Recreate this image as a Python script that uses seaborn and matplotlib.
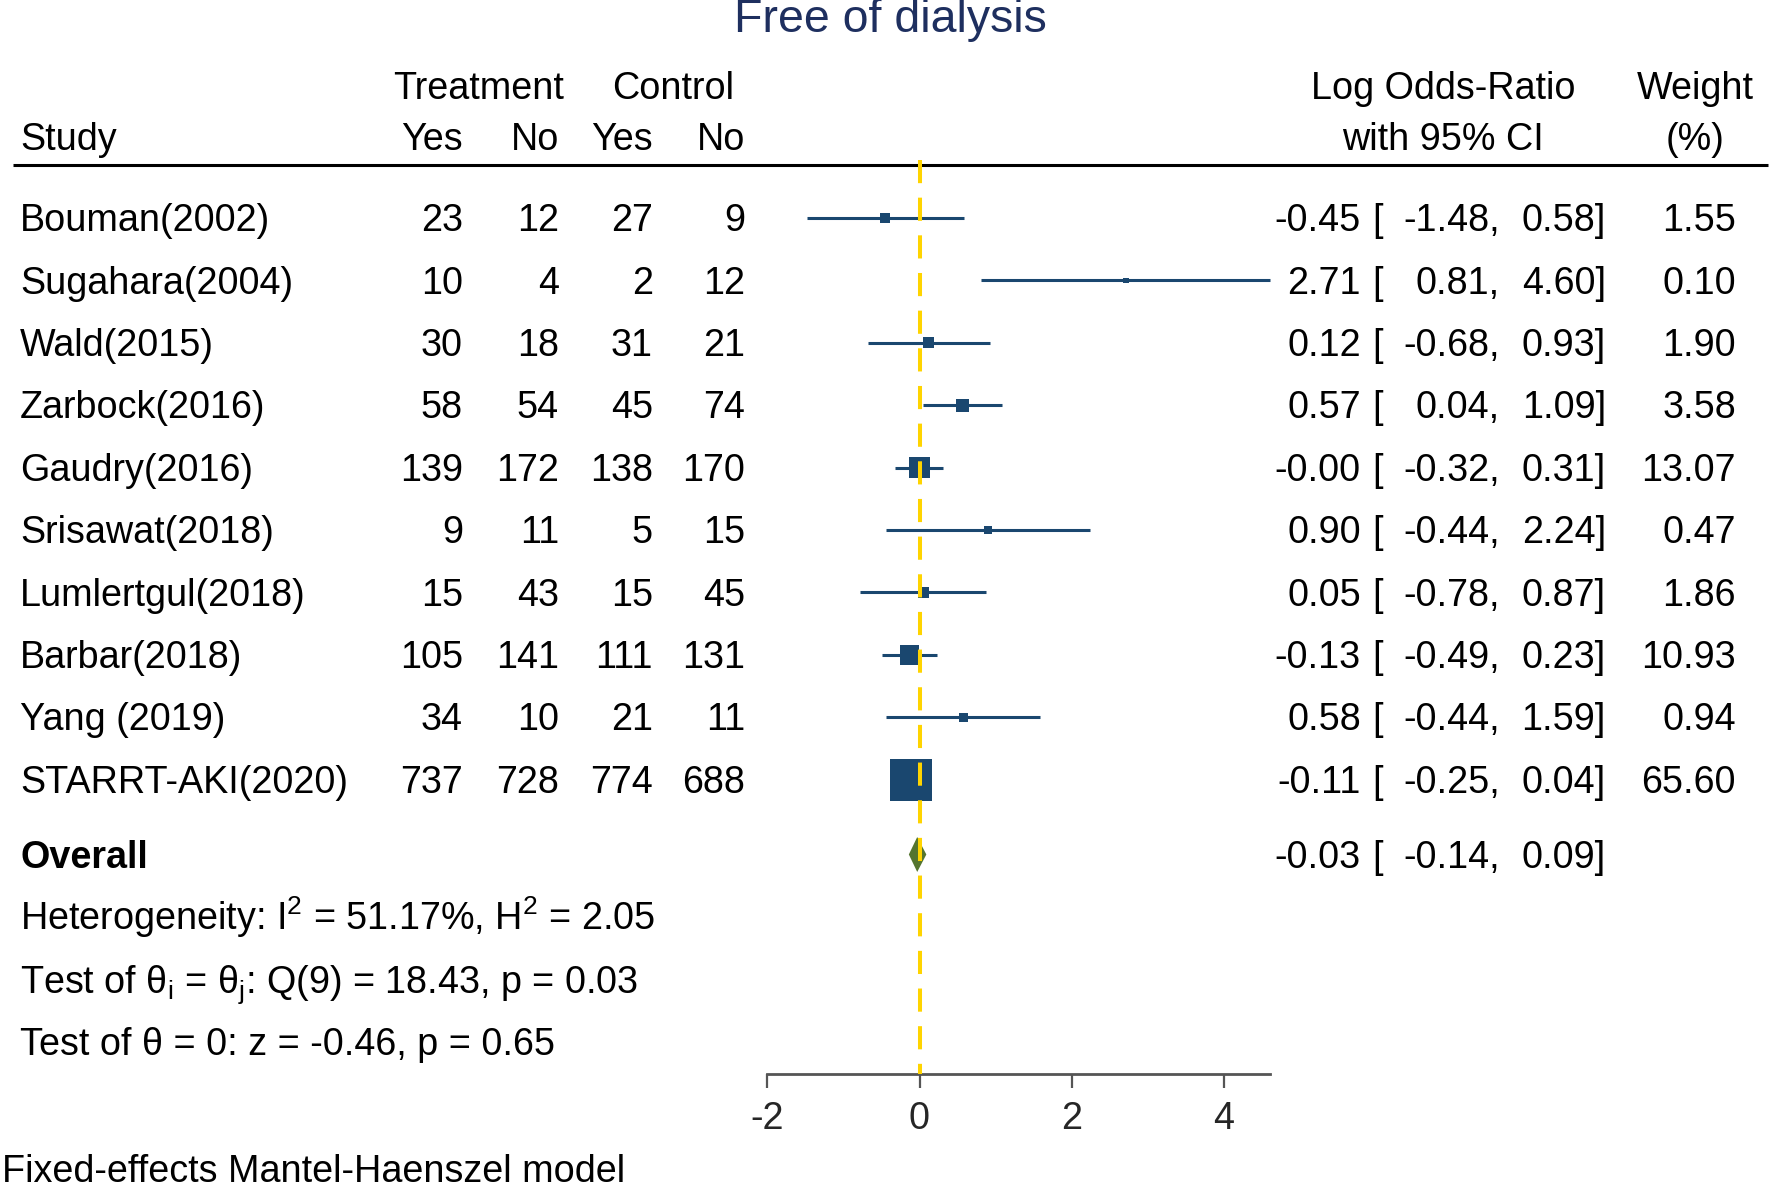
import numpy as np
import pandas as pd
import matplotlib
matplotlib.use("Agg")
import matplotlib.pyplot as plt
import matplotlib.transforms as mtransforms
import seaborn as sns

# ---------------- data ----------------
studies = ['Bouman(2002)', 'Sugahara(2004)', 'Wald(2015)', 'Zarbock(2016)',
           'Gaudry(2016)', 'Srisawat(2018)', 'Lumlertgul(2018)',
           'Barbar(2018)', 'Yang (2019)', 'STARRT-AKI(2020)']
trt_yes = [23, 10, 30, 58, 139, 9, 15, 105, 34, 737]
trt_no = [12, 4, 18, 54, 172, 11, 43, 141, 10, 728]
ctl_yes = [27, 2, 31, 45, 138, 5, 15, 111, 21, 774]
ctl_no = [9, 12, 21, 74, 170, 15, 45, 131, 11, 688]
log_or = [-0.45, 2.71, 0.12, 0.57, -0.0, 0.90, 0.05, -0.13, 0.58, -0.11]
ci_lo = [-1.48, 0.81, -0.68, 0.04, -0.32, -0.44, -0.78, -0.49, -0.44, -0.25]
ci_hi = [0.58, 4.60, 0.93, 1.09, 0.31, 2.24, 0.87, 0.23, 1.59, 0.04]
weights = [1.55, 0.10, 1.90, 3.58, 13.07, 0.47, 1.86, 10.93, 0.94, 65.60]

overall_est = -0.03
overall_lo = -0.14
overall_hi = 0.09

stat_lines = ['Heterogeneity: I$^{2}$ = 51.17%, H$^{2}$ = 2.05',
              r'Test of θ$_{\mathregular{i}}$ = θ$_{\mathregular{j}}$: Q(9) = 18.43, p = 0.03',
              'Test of θ = 0: z = -0.46, p = 0.65']
x_ticks = [-2, 0, 2, 4]

df = pd.DataFrame({'study': studies, 'est': log_or, 'lo': ci_lo,
                   'hi': ci_hi, 'weight': weights})
df['row'] = np.arange(len(df))

# ---------------- style ----------------
sns.set_theme(style='white')
plt.rcParams['font.family'] = ['Liberation Sans', 'DejaVu Sans']
plt.rcParams['mathtext.fontset'] = 'custom'
plt.rcParams['mathtext.rm'] = 'Liberation Sans'
plt.rcParams['mathtext.it'] = 'Liberation Sans:italic'
plt.rcParams['mathtext.bf'] = 'Liberation Sans:bold'

navy = '#1a476f'
green = '#55752f'
gold = '#ffd400'
fs = 27.2

W, H = 1771, 1190
fig = plt.figure(figsize=(W / 100, H / 100), dpi=100)
ax = fig.add_axes([0, 0, 1, 1])

# scale: 0 at x=919.5px, 76.1px per unit; row 0 centre at 218px, 62.4px per row
ax.set_xlim(-919.5 / 76.1, (W - 919.5) / 76.1)
ax.set_ylim((H - 218) / 62.4, -218 / 62.4)

ov_row = len(df) + 0.2
axis_row = 13.72
cap = 0.21   # half cap height in row units, for baseline placement

# CI lines and weight squares
ax.hlines(df['row'], df['lo'], df['hi'], color=navy, lw=2.2, zorder=2)
side_px = 4.67 * np.sqrt(df['weight']) + 4.2
size_map = dict(zip(df['weight'], (side_px * 0.72) ** 2))
sns.scatterplot(data=df, x='est', y='row', size='weight', sizes=size_map,
                marker='s', color=navy, linewidth=0, legend=False, ax=ax,
                zorder=3)

# overall diamond
dh = 0.28
ax.fill([overall_lo, overall_est, overall_hi, overall_est],
        [ov_row, ov_row - dh, ov_row, ov_row + dh], color=green, lw=0, zorder=3)

# no-effect line
ax.plot([0, 0], [-0.93, axis_row], color=gold, lw=2.9,
        linestyle=(0, (5.75, 3.6)), zorder=5)

# bottom axis
for s in ['top', 'left', 'right']:
    ax.spines[s].set_visible(False)
ax.spines['bottom'].set_position(('data', axis_row))
ax.spines['bottom'].set_bounds(-2, max(ci_hi))
ax.spines['bottom'].set_color('#555555')
ax.spines['bottom'].set_linewidth(2.0)
ax.set_xticks(x_ticks)
ax.set_xticklabels([str(t) for t in x_ticks])
ax.tick_params(axis='x', direction='out', length=10, width=1.6,
               color='#555555', labelsize=fs, pad=9, bottom=True)
ax.set_yticks([])
ax.set_xlabel('')
ax.set_ylabel('')

# ---------------- table text ----------------
tr = mtransforms.blended_transform_factory(fig.transFigure, ax.transData)


def put(px, row, s, ha='left', **kw):
    ax.text(px / W, row + cap, s, ha=ha, va='baseline', transform=tr,
            fontsize=kw.pop('size', fs), color=kw.pop('color', 'black'), **kw)


# title
ax.text(890 / W, -2.98, 'Free of dialysis', ha='center', va='baseline',
        transform=tr, fontsize=33.5, color='#1e2f5f')

# headers
put(479, -2.12, 'Treatment', ha='center')
put(673, -2.12, 'Control', ha='center')
put(20, -1.30, 'Study')
put(463, -1.30, 'Yes', ha='right')
put(559, -1.30, 'No', ha='right')
put(653, -1.30, 'Yes', ha='right')
put(745, -1.30, 'No', ha='right')
put(1443, -2.12, 'Log Odds-Ratio', ha='center')
put(1443, -1.30, 'with 95% CI', ha='center')
put(1695, -2.12, 'Weight', ha='center')
put(1695, -1.30, '(%)', ha='center')
ax.plot([13 / W, 1768 / W], [-0.85, -0.85], color='black', lw=2.2,
        transform=tr, solid_capstyle='butt')


def ci_text(row, est, lo, hi):
    put(1361, row, f'{est:.2f}', ha='right')
    put(1372, row, '[')
    put(1500, row, f'{lo:.2f},', ha='right')
    put(1606, row, f'{hi:.2f}]', ha='right')


for i, r in df.iterrows():
    put(20, r['row'], r['study'])
    put(463, r['row'], str(trt_yes[i]), ha='right')
    put(559, r['row'], str(trt_no[i]), ha='right')
    put(653, r['row'], str(ctl_yes[i]), ha='right')
    put(745, r['row'], str(ctl_no[i]), ha='right')
    ci_text(r['row'], r['est'], r['lo'], r['hi'])
    put(1736, r['row'], f"{r['weight']:.2f}", ha='right')

put(20, ov_row, 'Overall', fontweight='bold')
ci_text(ov_row, overall_est, overall_lo, overall_hi)

for k, line in enumerate(stat_lines):
    put(20, ov_row + 1 + k, line)

put(2, 15.24, 'Fixed-effects Mantel-Haenszel model')

fig.savefig('out.png', dpi=100, facecolor='white')
